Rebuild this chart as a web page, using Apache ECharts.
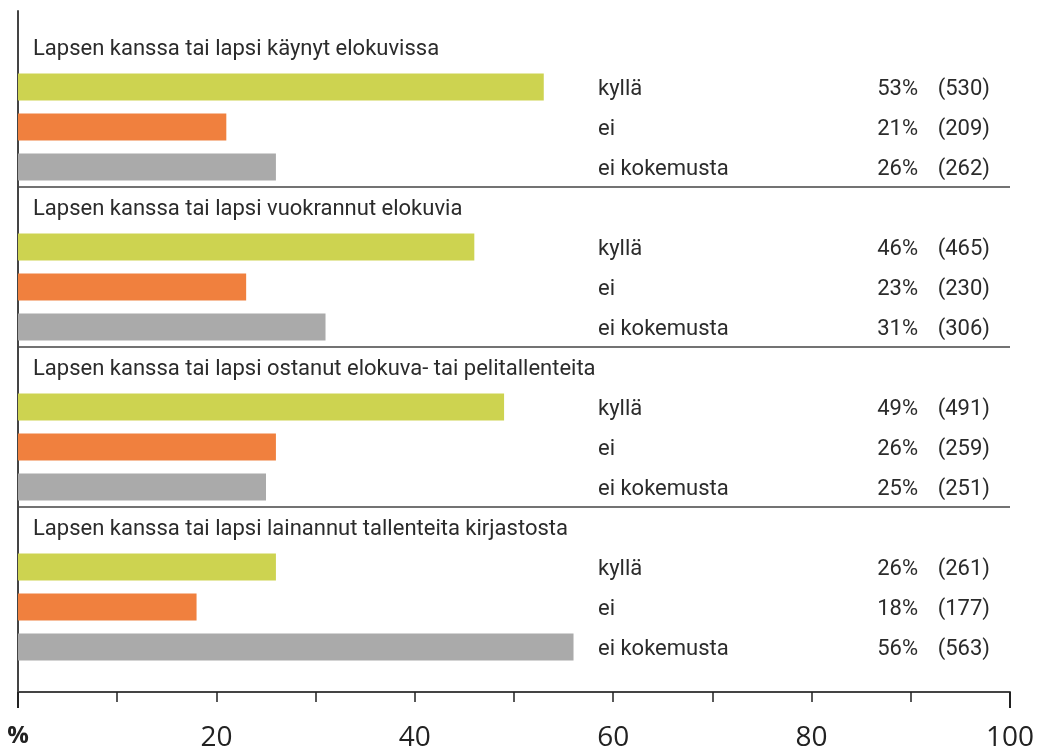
<!DOCTYPE html>
<html>
<head>
<meta charset="utf-8">
<script src="https://cdn.jsdelivr.net/npm/echarts@6/dist/echarts.min.js"></script>
<style>
  html, body { margin: 0; padding: 0; background: #fff; }
  #chart { width: 1043px; height: 752px; }
</style>
</head>
<body>
<div id="chart"></div>
<script>
var titles = [
  "Lapsen kanssa tai lapsi käynyt elokuvissa",
  "Lapsen kanssa tai lapsi vuokrannut elokuvia",
  "Lapsen kanssa tai lapsi ostanut elokuva- tai pelitallenteita",
  "Lapsen kanssa tai lapsi lainannut tallenteita kirjastosta"
];
var answers = ["kyllä", "ei", "ei kokemusta"];
var percents = [
  [53, 21, 26],
  [46, 23, 31],
  [49, 26, 25],
  [26, 18, 56]
];
var counts = [
  [530, 209, 262],
  [465, 230, 306],
  [491, 259, 251],
  [261, 177, 563]
];
var colors = ["#cdd350", "#f0803e", "#aaaaaa"];
var tickLabels = { 0: "{p|%}", 20: "20", 40: "40", 60: "60", 80: "80", 100: "100" };

var FONT = "Roboto";
var TEXT = "#2b2b2b";

var chart = echarts.init(document.getElementById("chart"));

// one row for the group title, then one row per answer
var rows = [], barData = [], labelData = [];
titles.forEach(function (title, g) {
  rows.push("t" + g);
  barData.push("-");
  labelData.push({
    value: 100,
    label: {
      show: true,
      position: "insideLeft",
      distance: 15,
      offset: [0, 2],
      formatter: title,
      fontSize: 22,
      fontFamily: FONT,
      color: TEXT
    }
  });
  answers.forEach(function (a, i) {
    rows.push("r" + g + "_" + i);
    barData.push({ value: percents[g][i], itemStyle: { color: colors[i] } });
    labelData.push({
      value: 100,
      label: {
        show: true,
        position: "insideRight",
        distance: 20,
        offset: [0, 2],
        formatter: "{a|" + a + "}{b|" + percents[g][i] + "%}{c|(" + counts[g][i] + ")}"
      }
    });
  });
});

var richText = { fontSize: 22, fontFamily: FONT, color: TEXT };

var option = {
  animation: false,
  grid: [
    { left: 18, right: 33, top: 27, height: 640 },
    { left: 18, right: 33, top: 11, bottom: 60 },
    { left: 18, right: 33, top: 11, bottom: 60 }
  ],
  xAxis: [
    { gridIndex: 0, type: "value", min: 0, max: 100, show: false },
    {
      gridIndex: 1,
      type: "value",
      min: 0,
      max: 100,
      interval: 10,
      splitLine: { show: false },
      axisLine: { show: true, lineStyle: { color: "#444", width: 2 } },
      axisTick: { show: true, length: 10, lineStyle: { color: "#222", width: 1.5 } },
      axisLabel: {
        margin: 32,
        fontSize: 28,
        fontFamily: "Open Sans",
        color: "#222",
        formatter: function (v) {
          return tickLabels[v] !== undefined ? tickLabels[v] : "";
        },
        rich: { p: { fontSize: 24, fontWeight: "bold", fontFamily: "Open Sans", color: "#222" } }
      }
    },
    {
      gridIndex: 2,
      type: "value",
      min: 0,
      max: 100,
      interval: 100,
      splitLine: { show: false },
      axisLine: { show: false },
      axisLabel: { show: false },
      axisTick: { show: true, length: 16, lineStyle: { color: "#222", width: 2 } }
    }
  ],
  yAxis: [
    {
      gridIndex: 0,
      type: "category",
      inverse: true,
      data: rows,
      axisLine: { show: false },
      axisTick: { show: false },
      axisLabel: { show: false },
      splitLine: { show: false }
    },
    {
      gridIndex: 1,
      type: "value",
      axisLine: { show: true, lineStyle: { color: "#444", width: 2 } },
      axisTick: { show: false },
      axisLabel: { show: false },
      splitLine: { show: false }
    },
    { gridIndex: 2, type: "value", show: false },
    {
      // group separators: one line every 4 rows
      gridIndex: 0,
      type: "value",
      position: "right",
      inverse: true,
      min: 0,
      max: rows.length,
      interval: 4,
      axisLine: { show: false },
      axisTick: { show: false },
      axisLabel: { show: false },
      splitLine: {
        show: true,
        showMinLine: false,
        showMaxLine: false,
        lineStyle: { color: "#444", width: 1.5 }
      }
    }
  ],
  series: [
    {
      type: "bar",
      xAxisIndex: 0,
      yAxisIndex: 0,
      barWidth: 27,
      data: barData,
      silent: true
    },
    {
      type: "bar",
      xAxisIndex: 0,
      yAxisIndex: 0,
      barWidth: 27,
      barGap: "-100%",
      silent: true,
      itemStyle: { color: "rgba(0,0,0,0)" },
      label: {
        rich: {
          a: Object.assign({ width: 280, align: "left" }, richText),
          b: Object.assign({ width: 40, align: "right" }, richText),
          c: Object.assign({ width: 72, align: "right" }, richText)
        }
      },
      data: labelData
    }
  ]
};

chart.setOption(option);
</script>
</body>
</html>
